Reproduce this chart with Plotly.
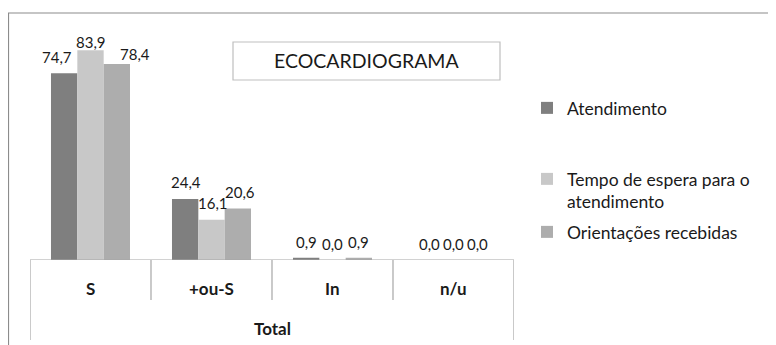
import plotly.graph_objects as go

categories = ["S", "+ou-S", "In", "n/u"]
group_label = "Total"
series_names = ["Atendimento", "Tempo de espera para o<br>atendimento", "Orientações recebidas"]
atendimento = [74.7, 24.4, 0.9, 0.0]
tempo_espera = [83.9, 16.1, 0.0, 0.0]
orientacoes = [78.4, 20.6, 0.9, 0.0]
chart_title = "ECOCARDIOGRAMA"

series_values = [atendimento, tempo_espera, orientacoes]
colors = ["#7f7f7f", "#c8c8c8", "#adadad"]
FONT = "Lato, 'Open Sans', sans-serif"

# the page body adds an 8px offset; work in screen coordinates
OFF = 8
W, H = 776 - OFF, 345 - OFF
ML, MT = 30 - OFF, 10 - OFF
MR = W - (514 - OFF)
MB = H - (260 - OFF)
PW, PH = 484, 250

def px_x(p):
    return (p - 30) / PW

def px_y(p):
    return (260 - p) / PH

fig = go.Figure()
legend_ids = ["legend", "legend2", "legend3"]
for name, vals, col, lg in zip(series_names, series_values, colors, legend_ids):
    fig.add_trace(go.Bar(
        x=categories, y=vals, name=name, marker=dict(color=col, line=dict(width=0)),
        legend=lg, hoverinfo="skip"))

# data labels (Excel-style, nudged to avoid overlap)
label_xshift = [
    [-34, -26, -26, -24],
    [0, 1, 0, 0],
    [44, 28, 26, 24],
]
label_yshift = [
    [16, 17, 16, 16],
    [8, 17, 16, 16],
    [10, 17, 16, 16],
]
for s, vals in enumerate(series_values):
    for c, v in enumerate(vals):
        fig.add_annotation(
            x=categories[c], y=v, xref="x", yref="y",
            text=f"{v:.1f}".replace(".", ","), showarrow=False,
            xshift=label_xshift[s][c], yshift=label_yshift[s][c],
            yanchor="middle", xanchor="center",
            font=dict(family=FONT, size=15, color="#1a1a1a"))

# category labels and group label
for c, cat in enumerate(categories):
    fig.add_annotation(x=cat, y=0, xref="x", yref="paper", text=f"<b>{cat}</b>",
                       showarrow=False, yshift=-28, yanchor="middle",
                       font=dict(family=FONT, size=17, color="#1a1a1a"))
fig.add_annotation(x=0.5, y=0, xref="paper", yref="paper", text=f"<b>{group_label}</b>",
                   showarrow=False, yshift=-68, yanchor="middle",
                   font=dict(family=FONT, size=17, color="#1a1a1a"))

line_col = "#a6a6a6"
shapes = []
shapes.append(dict(type="line", xref="x", yref="y", x0=-0.5, x1=len(categories) - 0.5, y0=0, y1=0,
                   line=dict(color=line_col, width=1.2)))
for i in range(len(categories) + 1):
    outer = i == 0 or i == len(categories)
    shapes.append(dict(type="line", xref="x", yref="paper", x0=i - 0.5, x1=i - 0.5,
                       y0=0, y1=px_y(340 if outer else 300),
                       line=dict(color=line_col, width=1.2)))
# outer chart border (bottom cut off)
shapes.append(dict(type="path", xref="paper", yref="paper",
                   path=f"M {px_x(8.5)} {px_y(360)} L {px_x(8.5)} {px_y(13)} L {px_x(775)} {px_y(13)} L {px_x(775)} {px_y(360)}",
                   line=dict(color="#8c8c8c", width=1.2)))
# title box
shapes.append(dict(type="rect", xref="paper", yref="paper",
                   x0=px_x(233), x1=px_x(500), y0=px_y(80), y1=px_y(42),
                   line=dict(color="#bfbfbf", width=1.2), fillcolor="white"))
fig.add_annotation(x=px_x(366.5), y=px_y(61), xref="paper", yref="paper", text=chart_title,
                   showarrow=False, xanchor="center", yanchor="middle",
                   font=dict(family=FONT, size=19.5, color="#1a1a1a"))

leg_common = dict(xref="paper", yref="paper", xanchor="left", yanchor="top",
                  bgcolor="rgba(0,0,0,0)", itemwidth=30, valign="top",
                  font=dict(family=FONT, size=17.5, color="#1a1a1a"))
fig.update_layout(
    width=W, height=H,
    margin=dict(l=ML, r=MR, t=MT, b=MB),
    paper_bgcolor="white", plot_bgcolor="white",
    barmode="group", bargap=0.347, bargroupgap=0,
    xaxis=dict(type="category", showticklabels=False, showline=False, showgrid=False,
               zeroline=False, range=[-0.5, len(categories) - 0.5]),
    yaxis=dict(range=[0, 100], visible=False, showgrid=False, zeroline=False),
    shapes=shapes,
    showlegend=True,
    legend=dict(x=px_x(527), y=px_y(90), **leg_common),
    legend2=dict(x=px_x(527), y=px_y(161), **leg_common),
    legend3=dict(x=px_x(527), y=px_y(214), **leg_common),
)
fig.write_html("out.html")
